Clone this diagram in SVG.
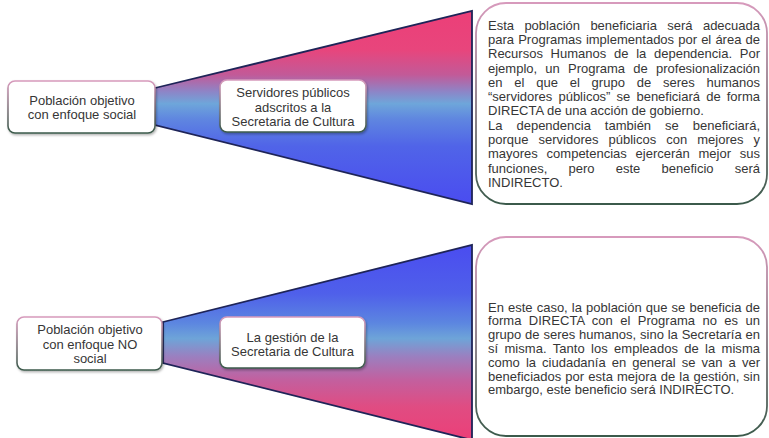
<svg xmlns="http://www.w3.org/2000/svg" width="769" height="438" viewBox="0 0 769 438">
<defs>
  <linearGradient id="gTop" x1="0" y1="11" x2="0" y2="204" gradientUnits="userSpaceOnUse">
    <stop offset="0" stop-color="#ec3f78"/>
    <stop offset="0.2" stop-color="#e8457c"/>
    <stop offset="0.33" stop-color="#c25a98"/>
    <stop offset="0.42" stop-color="#8c86c8"/>
    <stop offset="0.48" stop-color="#6ea6da"/>
    <stop offset="0.56" stop-color="#5f86e0"/>
    <stop offset="0.7" stop-color="#5064e8"/>
    <stop offset="1" stop-color="#4a4cf0"/>
  </linearGradient>
  <linearGradient id="gBot" x1="0" y1="245" x2="0" y2="440" gradientUnits="userSpaceOnUse">
    <stop offset="0" stop-color="#4a4cf0"/>
    <stop offset="0.25" stop-color="#4f60ea"/>
    <stop offset="0.4" stop-color="#5c86e0"/>
    <stop offset="0.48" stop-color="#6ea4d8"/>
    <stop offset="0.57" stop-color="#9a80c0"/>
    <stop offset="0.69" stop-color="#c2609f"/>
    <stop offset="0.83" stop-color="#e04c82"/>
    <stop offset="1" stop-color="#ec3f78"/>
  </linearGradient>
  <linearGradient id="gStroke" x1="0" y1="0" x2="0" y2="1">
    <stop offset="0" stop-color="#d79abc"/>
    <stop offset="1" stop-color="#3b5a4b"/>
  </linearGradient>
  <filter id="sh" x="-10%" y="-10%" width="130%" height="130%">
    <feDropShadow dx="1" dy="1.5" stdDeviation="1.2" flood-color="#000" flood-opacity="0.3"/>
  </filter>
</defs>
<style>
  .box { fill:#fff; stroke:url(#gStroke); stroke-width:1.6; filter:url(#sh); }
  .big { fill:#fff; stroke:url(#gStroke); stroke-width:1.8; }
  .t { font-family:"Liberation Sans", Arial, sans-serif; font-size:13px; fill:#363636; }
  .c { text-anchor:middle; }
  .funnel { stroke:#1e2458; stroke-width:1.8; stroke-linejoin:miter; }
</style>

<g id="connectors">
  <polygon class="funnel" fill="url(#gTop)" points="155,88 472,11 472,204 155,125"/>
  <polygon class="funnel" fill="url(#gBot)" points="163,322 472,245 472,440 163,363"/>
</g>

<g id="n1">
  <rect class="box" x="8" y="81" width="147" height="52" rx="7"/>
  <text class="t c" x="82" y="104.6">Población objetivo</text>
  <text class="t c" x="82" y="119.1">con enfoque social</text>
</g>

<g id="n2">
  <rect class="box" x="220" y="80" width="146" height="52" rx="7"/>
  <text class="t c" x="293" y="97.3">Servidores públicos</text>
  <text class="t c" x="293" y="111.8">adscritos a la</text>
  <text class="t c" x="293" y="126.3">Secretaria de Cultura</text>
</g>

<g id="n3">
  <rect class="big" x="476" y="3" width="291" height="201" rx="30"/>
  <text class="t" x="488" y="29.6" textLength="272" lengthAdjust="spacing" word-spacing="6.75">Esta población beneficiaria será adecuada</text>
  <text class="t" x="488" y="43.9" textLength="272" lengthAdjust="spacing" word-spacing="0.5">para Programas implementados por el área de</text>
  <text class="t" x="488" y="58.2" textLength="272" lengthAdjust="spacing" word-spacing="4.1">Recursos Humanos de la dependencia. Por</text>
  <text class="t" x="488" y="72.5" textLength="272" lengthAdjust="spacing" word-spacing="4.6">ejemplo, un Programa de profesionalización</text>
  <text class="t" x="488" y="86.8" textLength="272" lengthAdjust="spacing" word-spacing="8.2">en el que el grupo de seres humanos</text>
  <text class="t" x="488" y="101.1" textLength="272" lengthAdjust="spacing" word-spacing="2.5">“servidores públicos” se beneficiará de forma</text>
  <text class="t" x="488" y="115.4">DIRECTA de una acción de gobierno.</text>
  <text class="t" x="488" y="129.7" textLength="272" lengthAdjust="spacing" word-spacing="10.4">La dependencia también se beneficiará,</text>
  <text class="t" x="488" y="144" textLength="272" lengthAdjust="spacing" word-spacing="6.4">porque servidores públicos con mejores y</text>
  <text class="t" x="488" y="158.3" textLength="272" lengthAdjust="spacing" word-spacing="5.15">mayores competencias ejercerán mejor sus</text>
  <text class="t" x="488" y="172.6" textLength="272" lengthAdjust="spacing" word-spacing="17.6">funciones, pero este beneficio será</text>
  <text class="t" x="488" y="186.9">INDIRECTO.</text>
</g>

<g id="n4">
  <rect class="box" x="17" y="317" width="145" height="53" rx="7"/>
  <text class="t c" x="90" y="334">Población objetivo</text>
  <text class="t c" x="90" y="348.5">con enfoque NO</text>
  <text class="t c" x="90" y="363">social</text>
</g>

<g id="n5">
  <rect class="box" x="220" y="317" width="145" height="51" rx="7"/>
  <text class="t c" x="292.5" y="341.5">La gestión de la</text>
  <text class="t c" x="292.5" y="356">Secretaria de Cultura</text>
</g>

<g id="n6">
  <rect class="big" x="476" y="237" width="291" height="199" rx="30"/>
  <text class="t" x="488" y="311.6" textLength="272" lengthAdjust="spacing" word-spacing="0.5">En este caso, la población que se beneficia de</text>
  <text class="t" x="488" y="325.4" textLength="272" lengthAdjust="spacing" word-spacing="3.7">forma DIRECTA con el Programa no es un</text>
  <text class="t" x="488" y="339.2" textLength="272" lengthAdjust="spacing" word-spacing="0.25">grupo de seres humanos, sino la Secretaría en</text>
  <text class="t" x="488" y="353" textLength="272" lengthAdjust="spacing" word-spacing="2.6">sí misma. Tanto los empleados de la misma</text>
  <text class="t" x="488" y="366.8" textLength="272" lengthAdjust="spacing" word-spacing="2.5">como la ciudadanía en general se van a ver</text>
  <text class="t" x="488" y="380.6" textLength="272" lengthAdjust="spacing" word-spacing="0.35">beneficiados por esta mejora de la gestión, sin</text>
  <text class="t" x="488" y="394.4">embargo, este beneficio será INDIRECTO.</text>
</g>
</svg>
